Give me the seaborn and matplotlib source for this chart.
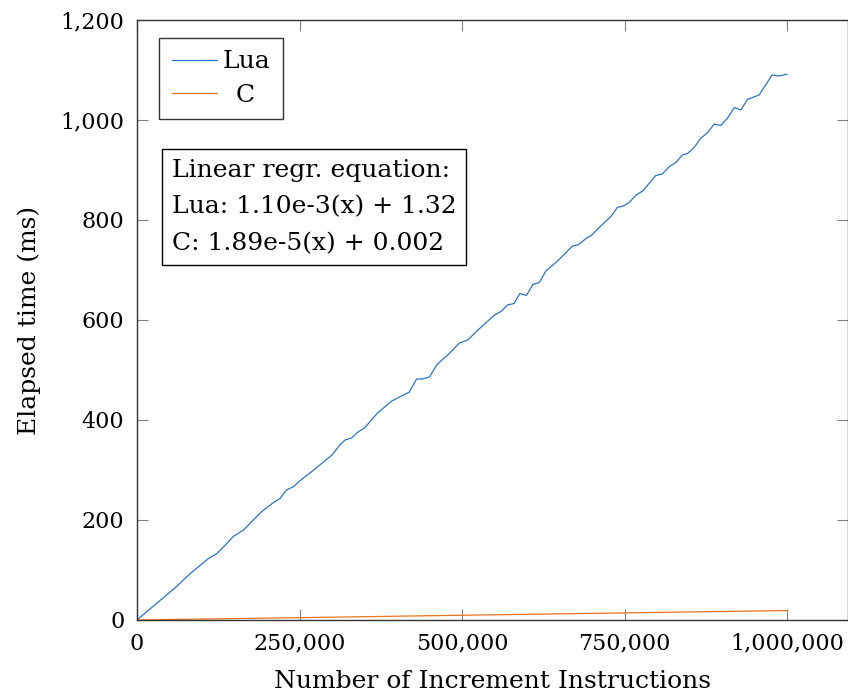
import numpy as np
import pandas as pd
import matplotlib
matplotlib.use("Agg")
import matplotlib.pyplot as plt
import seaborn as sns
from matplotlib.ticker import FuncFormatter

# Lua run: instructions (thousands) vs elapsed ms
lua_k = [0, 20, 40, 60, 82, 96, 110, 123, 136, 148, 164, 179, 192, 210, 220,
         230, 241, 253, 270, 285, 300, 312, 320, 330, 340, 350, 370, 392, 419,
         430, 439, 450, 461, 469, 478, 496, 509, 522, 550, 560, 570, 580, 589,
         599, 609, 619, 629, 647, 670, 678, 693, 699, 711, 729, 739, 750, 757,
         768, 778, 798, 808, 819, 829, 839, 847, 857, 867, 878, 888, 898, 908,
         919, 929, 939, 957, 977, 988, 998, 1000]
lua_ms = [0, 22, 44, 66, 93, 108, 123, 133, 150, 167, 180, 200, 217, 235, 243,
          260, 267, 281, 298, 314, 330, 350, 360, 364, 376, 384, 414, 438, 456,
          482, 482, 486, 510, 520, 530, 554, 560, 577, 610, 617, 630, 633, 653,
          649, 671, 675, 698, 718, 748, 750, 765, 769, 785, 807, 825, 829, 835,
          850, 858, 889, 892, 907, 915, 930, 933, 945, 963, 975, 992, 989, 1003,
          1025, 1020, 1041, 1050, 1090, 1088, 1091, 1092]

# C run
c_k = [0, 250, 500, 750, 1000]
c_ms = [0.0, 4.7, 9.5, 14.2, 18.9]

x_ticks = [0, 250000, 500000, 750000, 1000000]
y_ticks = [0, 200, 400, 600, 800, 1000, 1200]

lua_color = "#2a74c6"
c_color = "#e8741e"

sns.set_theme(style="ticks")
plt.rcParams["font.family"] = ["DejaVu Serif"]
plt.rcParams["text.color"] = "black"
plt.rcParams["axes.labelcolor"] = "black"
plt.rcParams["xtick.labelcolor"] = "black"
plt.rcParams["ytick.labelcolor"] = "black"

lua = pd.DataFrame({"n": np.array(lua_k) * 1000, "ms": lua_ms})
c = pd.DataFrame({"n": np.array(c_k) * 1000, "ms": c_ms})

fig = plt.figure(figsize=(8.48, 7.0), dpi=100)
ax = fig.add_axes([137 / 848, 80 / 700, 710.5 / 848, 600 / 700])

sns.lineplot(data=lua, x="n", y="ms", ax=ax, color=lua_color, lw=0.9,
             label="Lua", estimator=None)
sns.lineplot(data=c, x="n", y="ms", ax=ax, color=c_color, lw=0.9,
             label=" \u2009C", estimator=None)

ax.set_xlim(0, 1.093e6)
ax.set_ylim(0, 1200)
ax.set_xticks(x_ticks)
ax.set_yticks(y_ticks)
fmt = FuncFormatter(lambda v, p: f"{int(v):,}")
ax.xaxis.set_major_formatter(fmt)
ax.yaxis.set_major_formatter(fmt)
ax.tick_params(direction="in", length=8, width=0.8, color="#808080",
               labelcolor="black", top=True, right=True, labelsize=16, pad=9)
for s in ax.spines.values():
    s.set_visible(True)
    s.set_color("#333333")
    s.set_linewidth(1.0)

ax.set_xlabel("Number of Increment Instructions", fontsize=18, labelpad=11)
ax.set_ylabel("Elapsed time (ms)", fontsize=18, labelpad=14)

leg = ax.legend(loc="upper left", bbox_to_anchor=(0.031, 0.97), fontsize=18,
                frameon=True, fancybox=False, edgecolor="black",
                handlelength=1.8, handletextpad=0.25, borderpad=0.5,
                labelspacing=0.4, borderaxespad=0)
leg.get_frame().set_linewidth(1.0)

ax.text(0.049, 0.768,
        "Linear regr. equation:\nLua: 1.10e-3(x) + 1.32\nC: 1.89e-5(x) + 0.002",
        transform=ax.transAxes, ha="left", va="top", fontsize=18,
        linespacing=1.75,
        bbox=dict(boxstyle="square,pad=0.4", fc="white", ec="black", lw=1.0))

fig.savefig("out.png", dpi=100)
